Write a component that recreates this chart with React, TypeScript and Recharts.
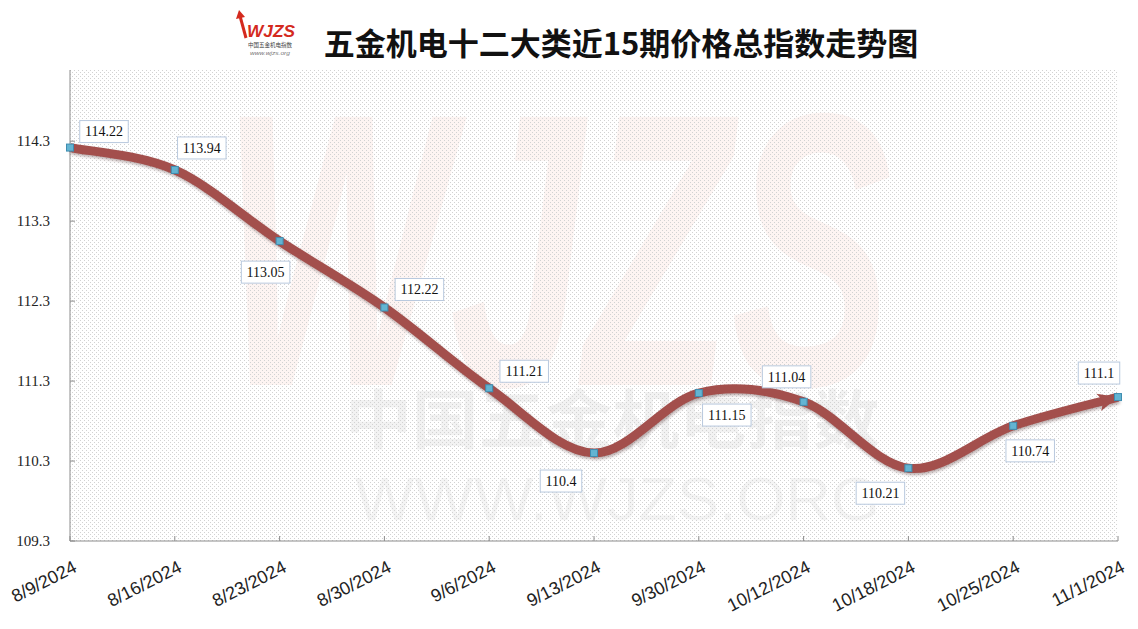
import React from 'react';
import { LineChart, Line, XAxis, YAxis, CartesianGrid, LabelList } from 'recharts';

// data
const dates = [
  '8/9/2024', '8/16/2024', '8/23/2024', '8/30/2024', '9/6/2024', '9/13/2024',
  '9/30/2024', '10/12/2024', '10/18/2024', '10/25/2024', '11/1/2024',
];
const indexValues = [114.22, 113.94, 113.05, 112.22, 111.21, 110.4, 111.15, 111.04, 110.21, 110.74, 111.1];
const yTicks = [109.3, 110.3, 111.3, 112.3, 113.3, 114.3];
const yDomain = [109.3, 115.19];

const chartData = dates.map((date, i) => ({ date, value: indexValues[i] }));

// where each value box sits relative to its point (styling only)
const labelOffsets = [
  [34, -16], [27, -22], [-14, 31], [35, -18], [35, -17], [-33, 28],
  [28, 22], [-17, -25], [-28, 25], [17, 25], [-19, -24],
];

const W = 1138;
const H = 629;
const LINE_COLOR = '#a34f4c';
const AXIS_COLOR = '#8c8c8c';

// Excel style smooth line (Catmull-Rom through the points)
const excelSmooth = (context: any) => {
  let pts: number[][] = [];
  return {
    areaStart() {},
    areaEnd() {},
    lineStart() { pts = []; },
    point(x: number, y: number) { pts.push([+x, +y]); },
    lineEnd() {
      const n = pts.length;
      if (!n) return;
      context.moveTo(pts[0][0], pts[0][1]);
      for (let i = 0; i < n - 1; i++) {
        const p0 = pts[i - 1] || pts[i];
        const p1 = pts[i];
        const p2 = pts[i + 1];
        const p3 = pts[i + 2] || p2;
        context.bezierCurveTo(
          p1[0] + (p2[0] - p0[0]) / 6, p1[1] + (p2[1] - p0[1]) / 6,
          p2[0] - (p3[0] - p1[0]) / 6, p2[1] - (p3[1] - p1[1]) / 6,
          p2[0], p2[1],
        );
      }
    },
  };
};

const XTick = (props: any) => {
  const { x, y, payload } = props;
  const tx = x + 8;
  const ty = y + 30;
  return (
    <g>
      <line x1={x} x2={x} y1={y} y2={y - 5} stroke={AXIS_COLOR} />
      <text
        x={tx} y={ty} textAnchor="end" transform={`rotate(-27 ${tx} ${ty})`}
        fontFamily="Liberation Sans, Arial, sans-serif" fontSize={18} fill="#222"
      >
        {payload.value}
      </text>
    </g>
  );
};

const YTick = (props: any) => {
  const { x, y, payload } = props;
  return (
    <g>
      <line x1={x} x2={x + 5} y1={y} y2={y} stroke={AXIS_COLOR} />
      <text
        x={x - 20} y={y} dy="0.35em" textAnchor="end"
        fontFamily="Liberation Serif, serif" fontSize={15} fill="#222"
      >
        {payload.value}
      </text>
    </g>
  );
};

const renderDot = (props: any) => {
  const { cx, cy, index, points } = props;
  let arrow = null;
  if (index === indexValues.length - 1) {
    let dx = 1;
    let dy = -0.3;
    if (points && points.length > 1) {
      const p = points[points.length - 2];
      dx = cx - p.x;
      dy = cy - p.y;
    }
    const len = Math.hypot(dx, dy);
    const ux = dx / len;
    const uy = dy / len;
    const bx = cx - ux * 20;
    const by = cy - uy * 20;
    arrow = (
      <polygon
        points={`${cx},${cy} ${bx - uy * 9},${by + ux * 9} ${bx + ux * 5},${by + uy * 5} ${bx + uy * 9},${by - ux * 9}`}
        fill={LINE_COLOR}
      />
    );
  }
  return (
    <g key={`dot-${index}`}>
      {arrow}
      <rect x={cx - 3.5} y={cy - 3.5} width={7} height={7} fill="#63b4d2" stroke="#3f8db0" strokeWidth={1} />
    </g>
  );
};

const renderLabel = (props: any) => {
  const { x, y, value, index } = props;
  const [ox, oy] = labelOffsets[index] || [0, -20];
  const text = String(value);
  const w = (text.length - 1) * 7 + 3.5 + 10;
  const h = 22;
  const cx = x + ox;
  const cy = y + oy;
  return (
    <g key={`lbl-${index}`}>
      <rect x={cx - w / 2} y={cy - h / 2} width={w} height={h} fill="#fff" stroke="#b9c9de" strokeWidth={1} />
      <text
        x={cx} y={cy} dy="0.35em" textAnchor="middle"
        fontFamily="Liberation Serif, serif" fontSize={14} fill="#111"
      >
        {text}
      </text>
    </g>
  );
};

const Backdrop = () => (
  <svg width={W} height={H} style={{ position: 'absolute', left: 0, top: 0 }}>
    <defs>
      <pattern id="dots" width={4} height={4} patternUnits="userSpaceOnUse">
        <rect x={0} y={0} width={1} height={1} fill="#d2d2d2" />
        <rect x={2} y={2} width={1} height={1} fill="#d2d2d2" />
      </pattern>
    </defs>
    {/* logo */}
    <g>
      <path d="M246 38 L240 16" stroke="#d42a1e" strokeWidth={3} />
      <polygon points="236,19 239,10 245,17" fill="#d42a1e" />
      <text x={247} y={37} fontFamily="Liberation Sans, sans-serif" fontStyle="italic" fontWeight="bold"
        fontSize={17} fill="#d42a1e" textLength={48} lengthAdjust="spacingAndGlyphs">WJZS</text>
      <text x={248} y={47} fontFamily="Noto Sans CJK SC" fontSize={6} fill="#444"
        textLength={44} lengthAdjust="spacingAndGlyphs">中国五金机电指数</text>
      <text x={250} y={55} fontFamily="Liberation Sans, sans-serif" fontStyle="italic" fontSize={5} fill="#777"
        textLength={40} lengthAdjust="spacingAndGlyphs">www.wjzs.org</text>
    </g>
    <text x={621} y={55} textAnchor="middle" fontFamily="Noto Sans CJK SC" fontWeight="bold" fontSize={31} fill="#111">
      五金机电十二大类近15期价格总指数走势图
    </text>
    {/* watermark */}
    <text x={222} y={385} fontFamily="Liberation Sans, sans-serif" fontStyle="italic" fontWeight="bold"
      fontSize={390} fill="rgba(220,60,40,0.06)" textLength={670} lengthAdjust="spacingAndGlyphs">WJZS</text>
    <text x={345} y={443} fontFamily="Noto Sans CJK SC" fontWeight="bold" fontSize={64}
      fill="rgba(0,0,0,0.05)" textLength={535} lengthAdjust="spacingAndGlyphs">中国五金机电指数</text>
    <text x={355} y={520} fontFamily="Liberation Sans, sans-serif" fontSize={62}
      fill="rgba(0,0,0,0.045)" textLength={525} lengthAdjust="spacingAndGlyphs">WWW.WJZS.ORG</text>
  </svg>
);

const App = () => {
  return (
    <div style={{ position: 'relative', width: W, height: H, margin: -8, background: '#fff' }}>
      <style>{'.recharts-line-curve { filter: drop-shadow(1px 2px 1.5px rgba(60,20,20,0.35)); }'}</style>
      <Backdrop />
      <div style={{ position: 'absolute', left: 0, top: 0 }}>
        <LineChart width={W} height={H} data={chartData} margin={{ top: 70, right: 20, left: 10, bottom: 28 }}>
          <CartesianGrid horizontal={false} vertical={false} fill="url(#dots)" />
          <XAxis
            dataKey="date" interval={0} height={60} tickSize={0} tickMargin={0}
            axisLine={{ stroke: AXIS_COLOR }} tickLine={false} tick={<XTick />}
          />
          <YAxis
            type="number" domain={yDomain} ticks={yTicks} width={60} tickSize={0} tickMargin={0}
            allowDataOverflow axisLine={{ stroke: AXIS_COLOR }} tickLine={false} tick={<YTick />}
          />
          <Line
            dataKey="value" type={excelSmooth as any} stroke={LINE_COLOR} strokeWidth={9}
            dot={renderDot} activeDot={false} isAnimationActive={false}
          >
            <LabelList dataKey="value" content={renderLabel} />
          </Line>
        </LineChart>
      </div>
    </div>
  );
};

export default App;
